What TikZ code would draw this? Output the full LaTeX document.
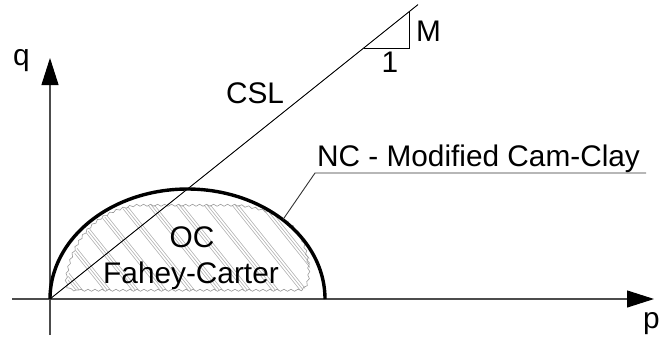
\documentclass[tikz,border=0pt]{standalone}
\usepackage{fontspec}
\setmainfont{Liberation Sans}
\usetikzlibrary{arrows.meta,decorations.pathmorphing}
\tikzset{
  axis/.style={draw=black!70, line width=1.1pt, -{Triangle[length=27pt,width=17pt,black]}},
  thinline/.style={draw=black, line width=0.9pt},
  lbl/.style={inner sep=0pt, anchor=base, font=\fontsize{29.8}{36}\selectfont},
  ncurve/.style={draw=black, line width=3.4pt},
  hatch/.style={draw=black!35, line width=0.5pt},
  wavy/.style={draw=black!40, line width=0.6pt, decorate, decoration={snake, segment length=7pt, amplitude=1pt}}
}
\begin{document}
\begin{tikzpicture}[x=1pt,y=-1pt]
\useasboundingbox (0,0) rectangle (661,337);
% coordinates
\coordinate (O) at (50,299);
\coordinate (qbot) at (50,335);
\coordinate (qtop) at (50,58);
\coordinate (pleft) at (12,299);
\coordinate (ptip) at (654,299);
\coordinate (cslend) at (418,4.6);
\coordinate (t1) at (363.75,48);
\coordinate (t2) at (409,48);
\coordinate (t3) at (409,11.8);
\coordinate (lead1) at (283,219.5);
\coordinate (lead2) at (315,173);
\coordinate (lead3) at (646,173);
% OC hatched region
\def\blob{(76,290) .. controls (66,290) and (67,280) .. (70,268) .. controls (78,235) and (100,210) .. (140,205) -- (240,205) .. controls (280,210) and (300,225) .. (306,245) .. controls (312,265) and (314,290) .. (300,290) -- cycle}
\begin{scope}
  \clip \blob;
  \foreach \g in {-200,-172,...,320} {
    \foreach \o in {0,3.2,6.4} {
      \draw[hatch] (\g+\o,190) -- ++(100,125);
    }
  }
\end{scope}
\path[wavy] \blob;
% axes
\draw[axis] (qbot) -- (qtop);
\draw[axis] (pleft) -- (ptip);
% NC ellipse
\draw[ncurve] plot[domain=180:0, samples=120, smooth] ({187.5+137.5*cos(\x)},{299-110*sin(\x)});
% CSL
\draw[thinline] (O) -- (cslend);
\draw[thinline] (t1) -- (t2) -- (t3);
% leader
\draw[draw=black!80, line width=0.9pt] (lead1) -- (lead2) -- (lead3);
% labels
\node[lbl] (q) at (21.5,66) {q};
\node[lbl] (p) at (651.5,328) {p};
\node[lbl] (csl) at (255,103) {CSL};
\node[lbl] (m) at (428.5,42) {M};
\node[lbl] (one) at (390,73) {1};
\node[lbl] (nc) at (478.5,166.7) {NC - Modified Cam-Clay};
\node[lbl] (oc) at (192,247) {OC};
\node[lbl] (fc) at (191,283) {Fahey-Carter};
\end{tikzpicture}
\end{document}
